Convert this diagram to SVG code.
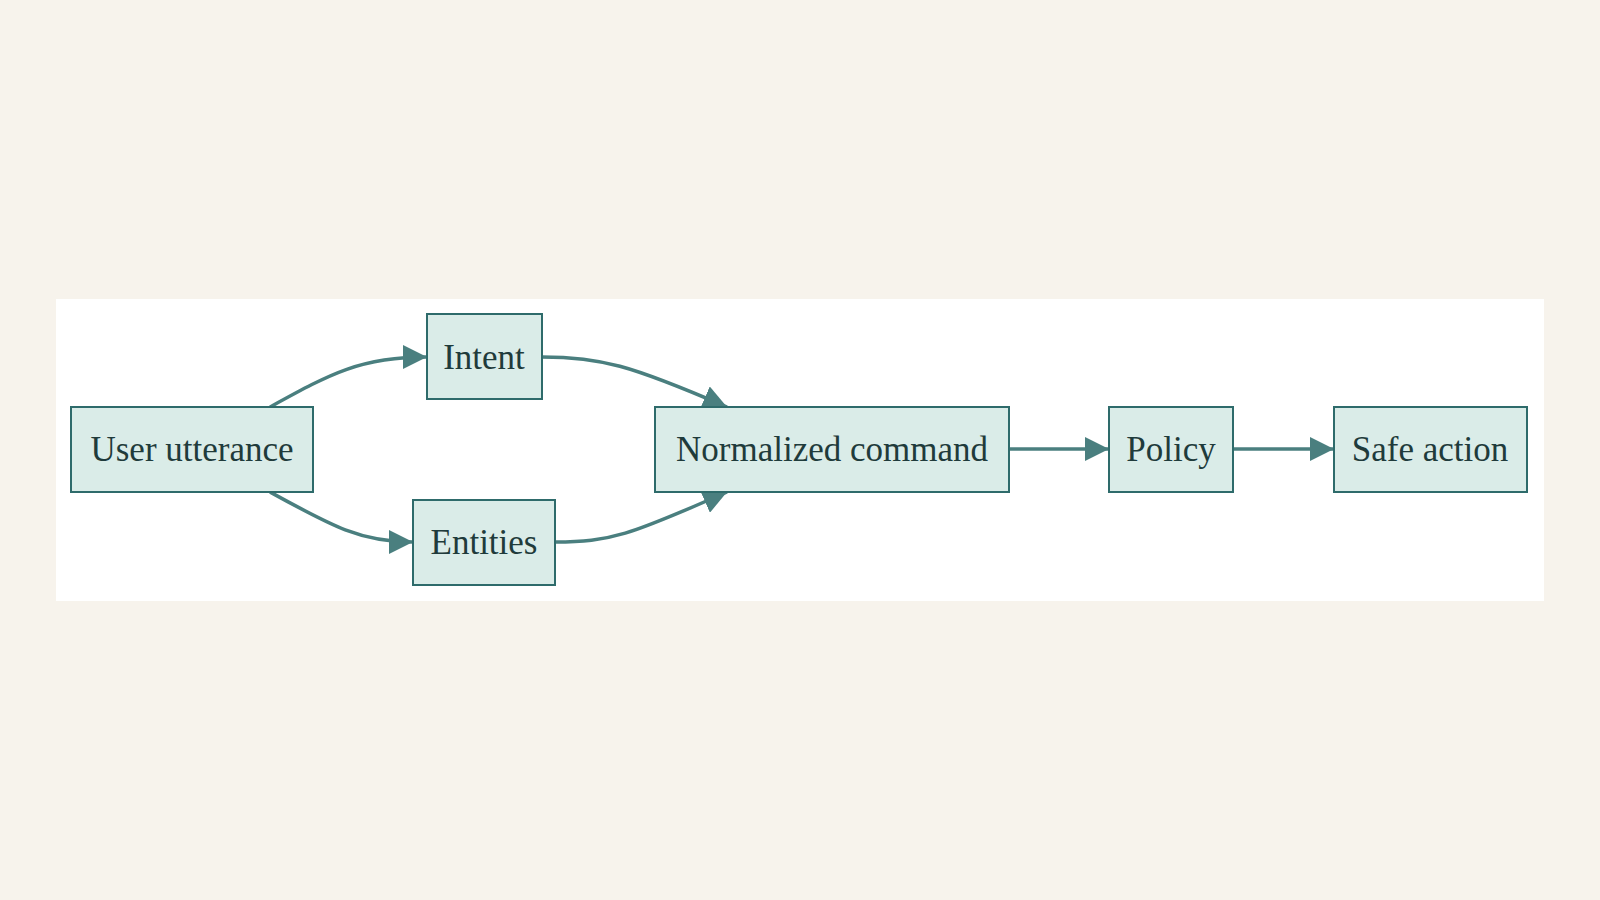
<svg xmlns="http://www.w3.org/2000/svg" width="1600" height="900" viewBox="0 0 1600 900">
<style>
.n rect{fill:#daece8;stroke:#2e6b6b;stroke-width:2}
.n text{font-family:"Liberation Serif",serif;font-size:35px;fill:#1f3b3b;text-anchor:middle;dominant-baseline:central}
.e path{fill:none;stroke:#4a7f7f;stroke-width:3.5;marker-end:url(#a)}
</style>
<defs><marker id="a" markerUnits="userSpaceOnUse" markerWidth="26" markerHeight="24" refX="24" refY="12" orient="auto"><path d="M0,0 L24,12 L0,24 Z" fill="#4a7f7f"/></marker></defs>
<rect width="1600" height="900" fill="#f7f3ec"/>
<rect x="56" y="299" width="1488" height="302" fill="#fff"/>
<g class="e">
<path d="M270,407 C330,374 360,357 427,357"/>
<path d="M270,492 C330,525 360,542 413,542"/>
<path d="M542,357 C600,357 630,365 727,407"/>
<path d="M555,542 C610,542 630,535 727,492"/>
<path d="M1009,449 L1109,449"/>
<path d="M1233,449 L1334,449"/>
</g>
<g class="n" id="user"><rect x="71" y="407" width="242" height="85"/><text x="192" y="449">User utterance</text></g>
<g class="n" id="intent"><rect x="427" y="314" width="115" height="85"/><text x="484" y="357">Intent</text></g>
<g class="n" id="entities"><rect x="413" y="500" width="142" height="85"/><text x="484" y="542">Entities</text></g>
<g class="n" id="norm"><rect x="655" y="407" width="354" height="85"/><text x="832" y="449">Normalized command</text></g>
<g class="n" id="policy"><rect x="1109" y="407" width="124" height="85"/><text x="1171" y="449">Policy</text></g>
<g class="n" id="safe"><rect x="1334" y="407" width="193" height="85"/><text x="1430" y="449">Safe action</text></g>
</svg>
